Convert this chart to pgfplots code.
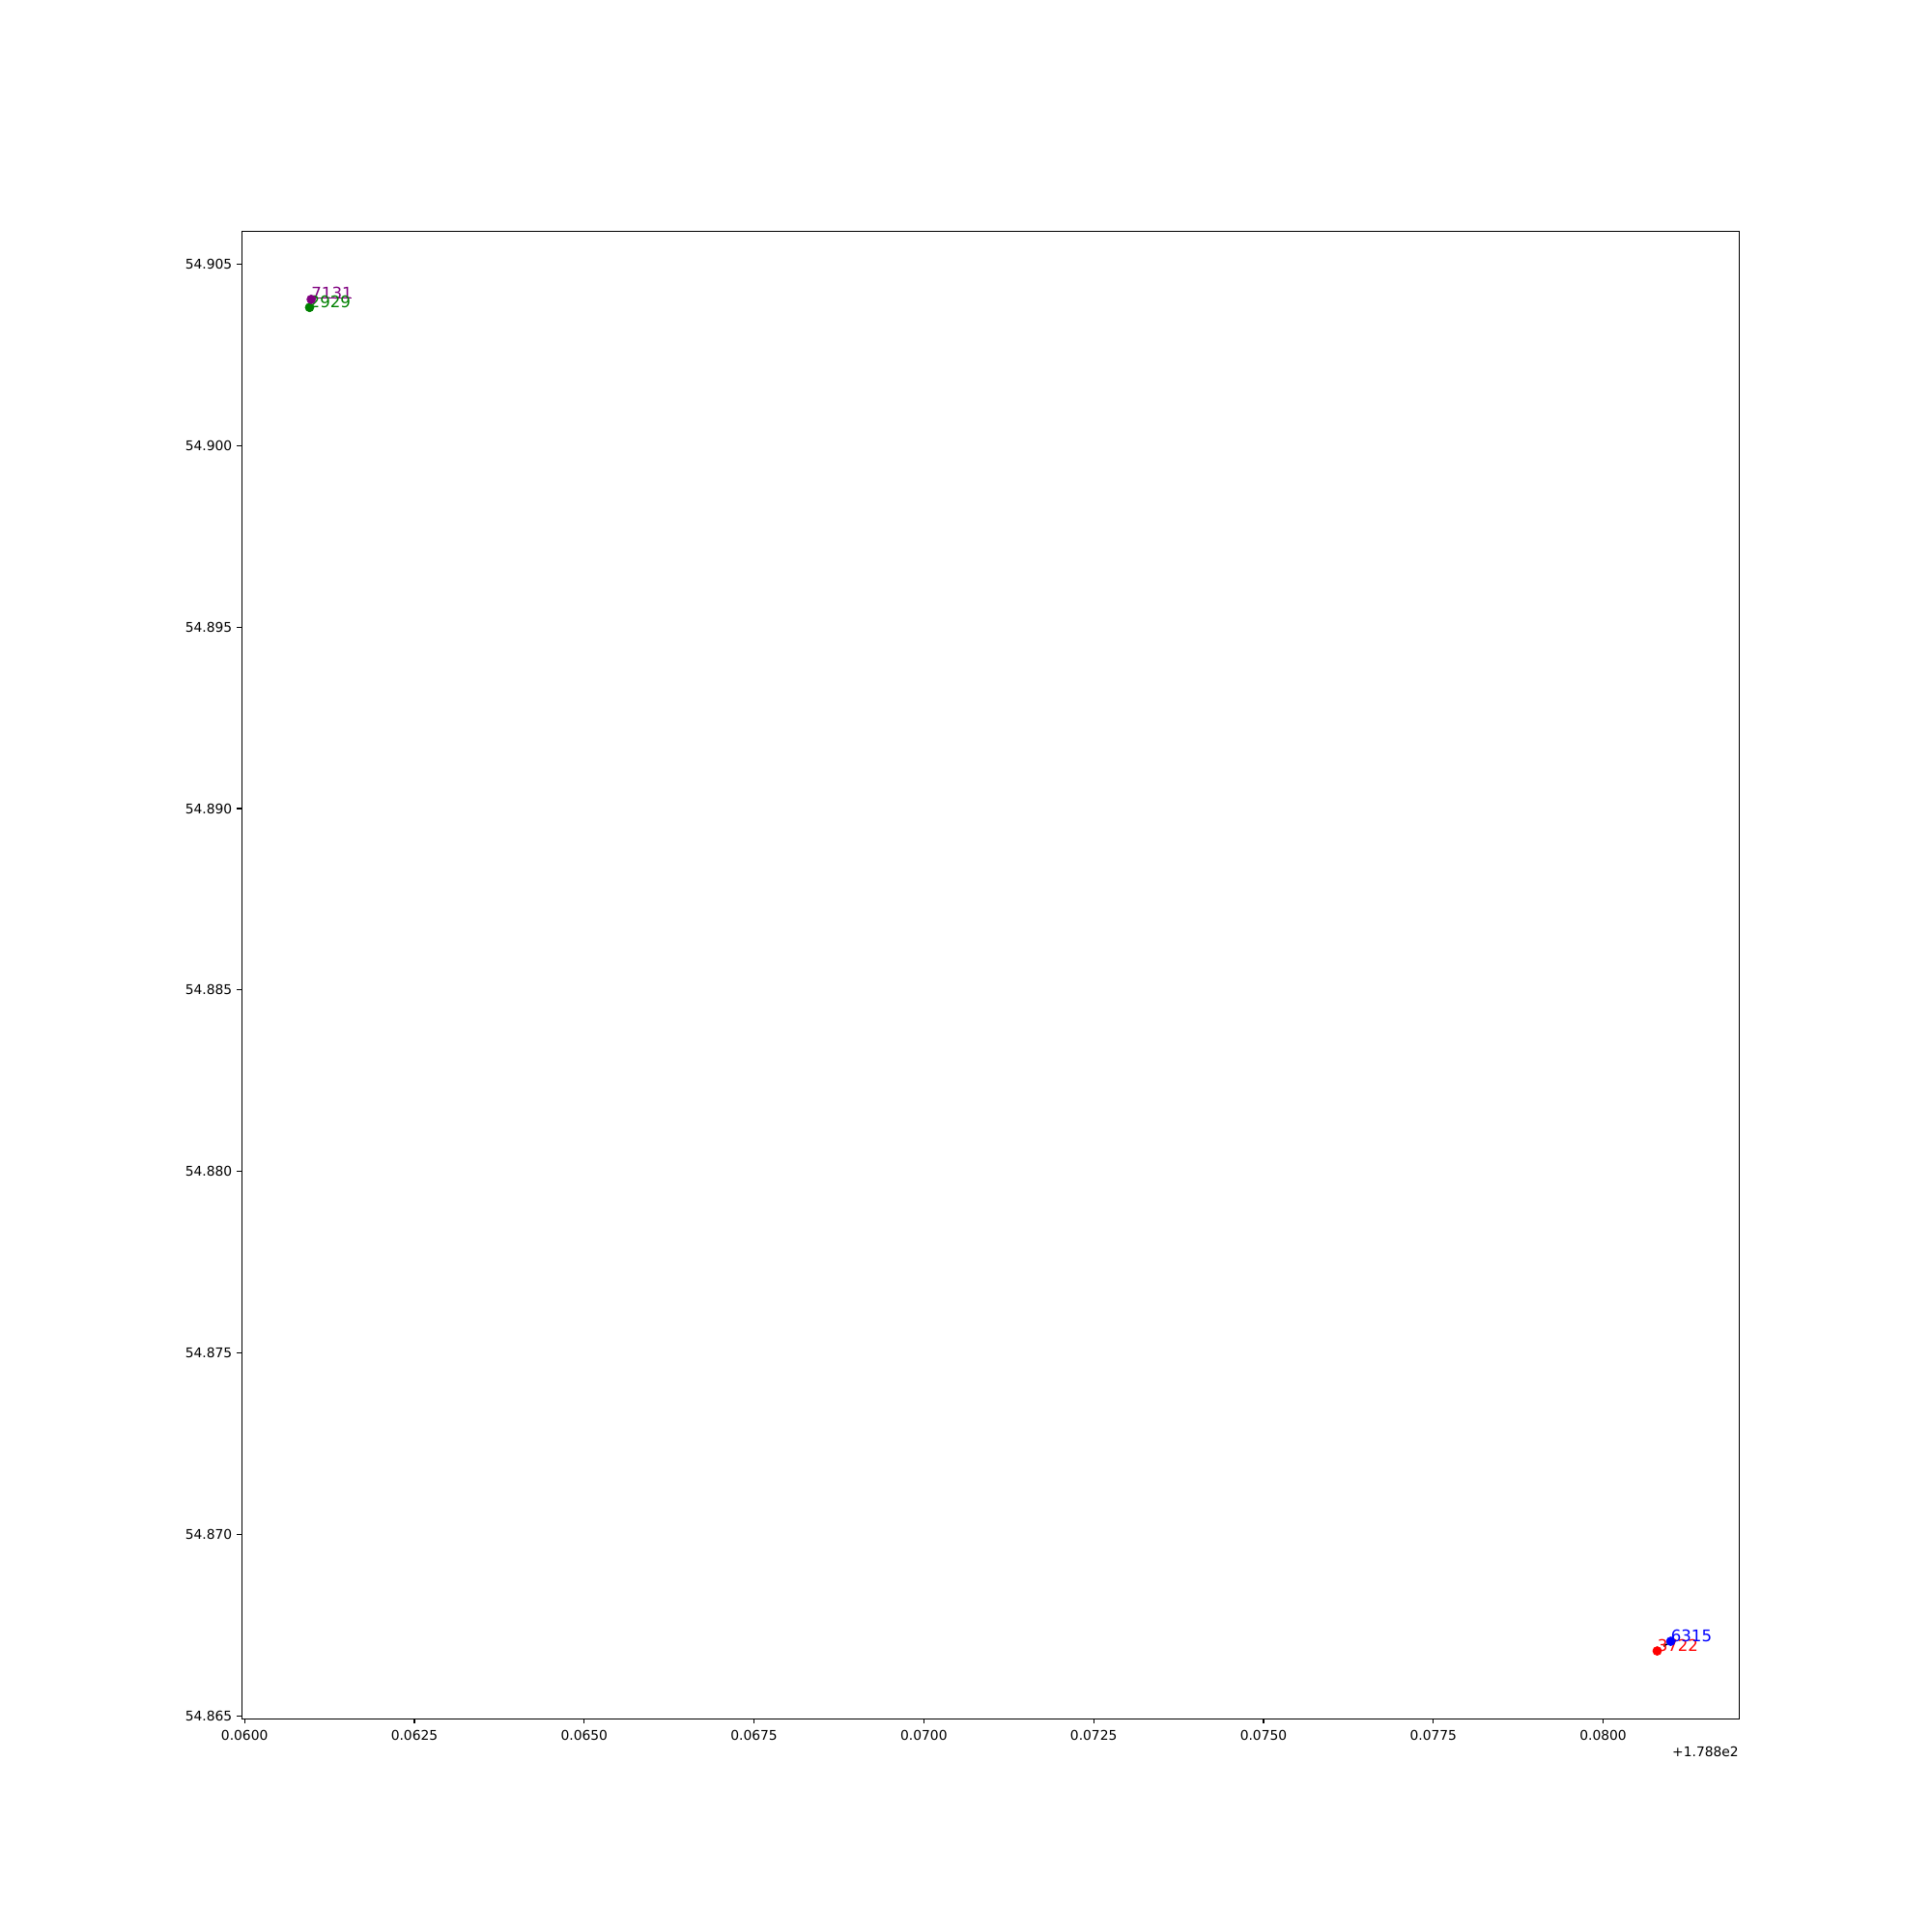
\documentclass[border=0pt]{standalone}
\usepackage{pgfplots}
\pgfplotsset{compat=1.18}
\usepackage{fontspec}
\setmainfont{DejaVu Sans}
\definecolor{mplpurple}{RGB}{128,0,128}
\definecolor{mplgreen}{RGB}{0,128,0}
\definecolor{mplblue}{RGB}{0,0,255}
\definecolor{mplred}{RGB}{255,0,0}
\begin{document}
\begin{tikzpicture}
\path[use as bounding box] (0,0) rectangle (20in,20in);
\begin{axis}[
  at={(2.5in,2.21in)}, anchor=south west,
  scale only axis, width=15.5in, height=15.39in,
  xmin=0.059955, xmax=0.081997,
  ymin=54.864937, ymax=54.905885,
  xtick={0.0600,0.0625,0.0650,0.0675,0.0700,0.0725,0.0750,0.0775,0.0800},
  ytick={54.865,54.870,54.875,54.880,54.885,54.890,54.895,54.900,54.905},
  ticklabel style={font=\fontsize{10}{12}\selectfont},
  xticklabel style={yshift=-1.5pt, /pgf/number format/.cd, fixed, fixed zerofill, precision=4},
  yticklabel style={/pgf/number format/.cd, fixed, fixed zerofill, precision=3},
  /pgf/number format/assume math mode=true,
  /pgf/number format/1000 sep={},
  scaled x ticks=false, scaled y ticks=false,
  tick align=outside, major tick length=3.5pt,
  xtick pos=bottom, ytick pos=left,
  tick style={black, line width=0.8pt},
  axis line style={line width=0.7pt},
  clip=false,
]
% connecting lines
\addplot[black, dashed, line width=1.2pt] coordinates {(0.080795,54.866798) (0.080995,54.867064)};
\addplot[black, dashed, line width=1.2pt] coordinates {(0.060957,54.903803) (0.060981,54.904024)};
\addplot[mplpurple, line width=1pt] coordinates {(0.060981,54.904070) (0.061570,54.904070)};
% points
\addplot[only marks, mark=*, mark size=3.3pt, color=mplgreen] coordinates {(0.060957,54.903803)};
\addplot[only marks, mark=*, mark size=3.3pt, color=mplpurple] coordinates {(0.060981,54.904024)};
\addplot[only marks, mark=*, mark size=3.3pt, color=mplred] coordinates {(0.080795,54.866798)};
\addplot[only marks, mark=*, mark size=3.3pt, color=mplblue] coordinates {(0.080995,54.867064)};
% labels
\node[anchor=base west, inner sep=0pt, text=mplpurple, font=\fontsize{12}{14}\selectfont] at (axis cs:0.060981,54.904024) {7131};
\node[anchor=base west, inner sep=0pt, text=mplgreen, font=\fontsize{12}{14}\selectfont] at (axis cs:0.060957,54.903803) {2929};
\node[anchor=base west, inner sep=0pt, text=mplred, font=\fontsize{12}{14}\selectfont] at (axis cs:0.080795,54.866798) {3722};
\node[anchor=base west, inner sep=0pt, text=mplblue, font=\fontsize{12}{14}\selectfont] at (axis cs:0.080995,54.867064) {6315};
% offset text
\node[anchor=base east, inner sep=0pt, font=\fontsize{10}{12}\selectfont] at (rel axis cs:1,0) [yshift=-0.40in] {+1.788e2};
\end{axis}
\end{tikzpicture}
\end{document}
